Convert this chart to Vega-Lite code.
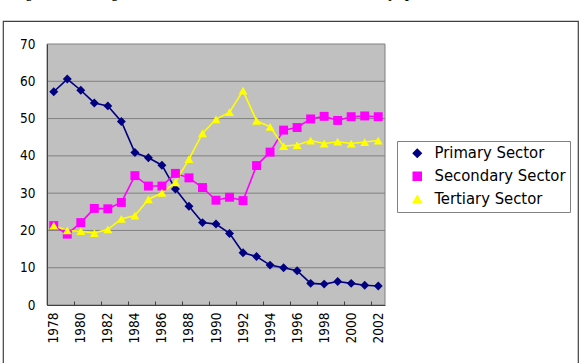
{
  "$schema": "https://vega.github.io/schema/vega-lite/v6.json",
  "width": 575,
  "height": 345,
  "autosize": {"type": "none"},
  "padding": {"left": 3, "top": 21, "right": 7, "bottom": 0},
  "background": "white",
  "title": {
    "text": "Figure 1. Changes in the Industrial Structure of Yiwu City (percent).",
    "font": "DejaVu Serif",
    "fontSize": 13,
    "fontWeight": "normal",
    "color": "#000000",
    "anchor": "start",
    "frame": "group",
    "baseline": "alphabetic",
    "offset": 10,
    "dx": 9
  },
  "config": {
    "view": {"stroke": "#404040", "strokeWidth": 1.2},
    "font": "DejaVu Sans Condensed"
  },
  "data": {
    "values": [
      {"year": 1978, "sector": "Primary Sector", "value": 57.2},
      {"year": 1979, "sector": "Primary Sector", "value": 60.6},
      {"year": 1980, "sector": "Primary Sector", "value": 57.6},
      {"year": 1981, "sector": "Primary Sector", "value": 54.2},
      {"year": 1982, "sector": "Primary Sector", "value": 53.4},
      {"year": 1983, "sector": "Primary Sector", "value": 49.2},
      {"year": 1984, "sector": "Primary Sector", "value": 40.9},
      {"year": 1985, "sector": "Primary Sector", "value": 39.5},
      {"year": 1986, "sector": "Primary Sector", "value": 37.5},
      {"year": 1987, "sector": "Primary Sector", "value": 31.1},
      {"year": 1988, "sector": "Primary Sector", "value": 26.5},
      {"year": 1989, "sector": "Primary Sector", "value": 22.1},
      {"year": 1990, "sector": "Primary Sector", "value": 21.7},
      {"year": 1991, "sector": "Primary Sector", "value": 19.2},
      {"year": 1992, "sector": "Primary Sector", "value": 14.0},
      {"year": 1993, "sector": "Primary Sector", "value": 13.0},
      {"year": 1994, "sector": "Primary Sector", "value": 10.7},
      {"year": 1995, "sector": "Primary Sector", "value": 10.0},
      {"year": 1996, "sector": "Primary Sector", "value": 9.2},
      {"year": 1997, "sector": "Primary Sector", "value": 5.8},
      {"year": 1998, "sector": "Primary Sector", "value": 5.6},
      {"year": 1999, "sector": "Primary Sector", "value": 6.3},
      {"year": 2000, "sector": "Primary Sector", "value": 5.8},
      {"year": 2001, "sector": "Primary Sector", "value": 5.3},
      {"year": 2002, "sector": "Primary Sector", "value": 5.1},
      {"year": 1978, "sector": "Secondary Sector", "value": 21.3},
      {"year": 1979, "sector": "Secondary Sector", "value": 19.0},
      {"year": 1980, "sector": "Secondary Sector", "value": 22.1},
      {"year": 1981, "sector": "Secondary Sector", "value": 25.9},
      {"year": 1982, "sector": "Secondary Sector", "value": 25.8},
      {"year": 1983, "sector": "Secondary Sector", "value": 27.5},
      {"year": 1984, "sector": "Secondary Sector", "value": 34.7},
      {"year": 1985, "sector": "Secondary Sector", "value": 31.9},
      {"year": 1986, "sector": "Secondary Sector", "value": 31.9},
      {"year": 1987, "sector": "Secondary Sector", "value": 35.3},
      {"year": 1988, "sector": "Secondary Sector", "value": 34.1},
      {"year": 1989, "sector": "Secondary Sector", "value": 31.5},
      {"year": 1990, "sector": "Secondary Sector", "value": 28.1},
      {"year": 1991, "sector": "Secondary Sector", "value": 28.9},
      {"year": 1992, "sector": "Secondary Sector", "value": 28.0},
      {"year": 1993, "sector": "Secondary Sector", "value": 37.4},
      {"year": 1994, "sector": "Secondary Sector", "value": 41.0},
      {"year": 1995, "sector": "Secondary Sector", "value": 46.9},
      {"year": 1996, "sector": "Secondary Sector", "value": 47.6},
      {"year": 1997, "sector": "Secondary Sector", "value": 49.9},
      {"year": 1998, "sector": "Secondary Sector", "value": 50.6},
      {"year": 1999, "sector": "Secondary Sector", "value": 49.5},
      {"year": 2000, "sector": "Secondary Sector", "value": 50.5},
      {"year": 2001, "sector": "Secondary Sector", "value": 50.7},
      {"year": 2002, "sector": "Secondary Sector", "value": 50.5},
      {"year": 1978, "sector": "Tertiary Sector", "value": 21.3},
      {"year": 1979, "sector": "Tertiary Sector", "value": 20.0},
      {"year": 1980, "sector": "Tertiary Sector", "value": 19.8},
      {"year": 1981, "sector": "Tertiary Sector", "value": 19.3},
      {"year": 1982, "sector": "Tertiary Sector", "value": 20.3},
      {"year": 1983, "sector": "Tertiary Sector", "value": 23.1},
      {"year": 1984, "sector": "Tertiary Sector", "value": 24.0},
      {"year": 1985, "sector": "Tertiary Sector", "value": 28.3},
      {"year": 1986, "sector": "Tertiary Sector", "value": 30.1},
      {"year": 1987, "sector": "Tertiary Sector", "value": 32.9},
      {"year": 1988, "sector": "Tertiary Sector", "value": 39.1},
      {"year": 1989, "sector": "Tertiary Sector", "value": 46.0},
      {"year": 1990, "sector": "Tertiary Sector", "value": 49.8},
      {"year": 1991, "sector": "Tertiary Sector", "value": 51.7},
      {"year": 1992, "sector": "Tertiary Sector", "value": 57.5},
      {"year": 1993, "sector": "Tertiary Sector", "value": 49.4},
      {"year": 1994, "sector": "Tertiary Sector", "value": 47.8},
      {"year": 1995, "sector": "Tertiary Sector", "value": 42.6},
      {"year": 1996, "sector": "Tertiary Sector", "value": 42.9},
      {"year": 1997, "sector": "Tertiary Sector", "value": 44.1},
      {"year": 1998, "sector": "Tertiary Sector", "value": 43.3},
      {"year": 1999, "sector": "Tertiary Sector", "value": 43.8},
      {"year": 2000, "sector": "Tertiary Sector", "value": 43.3},
      {"year": 2001, "sector": "Tertiary Sector", "value": 43.7},
      {"year": 2002, "sector": "Tertiary Sector", "value": 44.1}
    ]
  },
  "layer": [
    {
      "data": {"values": [{"panel": "plot"}]},
      "mark": {"type": "rect", "fill": "#c0c0c0", "stroke": "#808080", "strokeWidth": 1},
      "encoding": {
        "x": {"datum": 1977.5, "type": "quantitative"},
        "x2": {"datum": 2002.5},
        "y": {"datum": 0, "type": "quantitative"},
        "y2": {"datum": 70}
      }
    },
    {"data": {"values": [{"panel": "grid"}]}, "mark": {"type": "rule", "stroke": "#808080", "strokeWidth": 1}, "encoding": {"x": {"datum": 1977.5, "type": "quantitative"}, "x2": {"datum": 2002.5}, "y": {"datum": 10, "type": "quantitative"}}},
    {"data": {"values": [{"panel": "grid"}]}, "mark": {"type": "rule", "stroke": "#808080", "strokeWidth": 1}, "encoding": {"x": {"datum": 1977.5, "type": "quantitative"}, "x2": {"datum": 2002.5}, "y": {"datum": 20, "type": "quantitative"}}},
    {"data": {"values": [{"panel": "grid"}]}, "mark": {"type": "rule", "stroke": "#808080", "strokeWidth": 1}, "encoding": {"x": {"datum": 1977.5, "type": "quantitative"}, "x2": {"datum": 2002.5}, "y": {"datum": 30, "type": "quantitative"}}},
    {"data": {"values": [{"panel": "grid"}]}, "mark": {"type": "rule", "stroke": "#808080", "strokeWidth": 1}, "encoding": {"x": {"datum": 1977.5, "type": "quantitative"}, "x2": {"datum": 2002.5}, "y": {"datum": 40, "type": "quantitative"}}},
    {"data": {"values": [{"panel": "grid"}]}, "mark": {"type": "rule", "stroke": "#808080", "strokeWidth": 1}, "encoding": {"x": {"datum": 1977.5, "type": "quantitative"}, "x2": {"datum": 2002.5}, "y": {"datum": 50, "type": "quantitative"}}},
    {"data": {"values": [{"panel": "grid"}]}, "mark": {"type": "rule", "stroke": "#808080", "strokeWidth": 1}, "encoding": {"x": {"datum": 1977.5, "type": "quantitative"}, "x2": {"datum": 2002.5}, "y": {"datum": 60, "type": "quantitative"}}},
    {
      "encoding": {
        "x": {
          "field": "year",
          "type": "quantitative",
          "scale": {"domain": [1977.5, 2002.5], "range": [44, 382], "nice": false, "zero": false},
          "axis": {
            "title": null,
            "orient": "bottom",
            "offset": -61,
            "zindex": 1,
            "values": [1978, 1979, 1980, 1981, 1982, 1983, 1984, 1985, 1986, 1987, 1988, 1989, 1990, 1991, 1992, 1993, 1994, 1995, 1996, 1997, 1998, 1999, 2000, 2001, 2002],
            "labelExpr": "datum.value % 2 == 0 ? '' + datum.value : ''",
            "tickOffset": -6.76,
            "labelOffset": 6.76,
            "tickSize": -4,
            "tickColor": "#404040",
            "domainColor": "#404040",
            "labelAngle": -90,
            "labelAlign": "right",
            "labelBaseline": "middle",
            "labelPadding": 11,
            "labelFontSize": 13.5,
            "labelFont": "DejaVu Sans Condensed",
            "labelColor": "#000000",
            "labelOverlap": false,
            "labelBound": false,
            "labelFlush": false,
            "grid": false
          }
        },
        "y": {
          "field": "value",
          "type": "quantitative",
          "scale": {"domain": [0, 70], "range": [284, 23], "nice": false},
          "axis": {
            "title": null,
            "orient": "left",
            "offset": -44,
            "zindex": 1,
            "values": [0, 10, 20, 30, 40, 50, 60, 70],
            "ticks": false,
            "labelPadding": 12,
            "labelFontSize": 13.5,
            "labelFont": "DejaVu Sans Condensed",
            "labelColor": "#000000",
            "domainColor": "#404040",
            "grid": false
          }
        },
        "color": {
          "field": "sector",
          "type": "nominal",
          "scale": {
            "domain": ["Primary Sector", "Secondary Sector", "Tertiary Sector"],
            "range": ["#000080", "#ff00ff", "#ffff00"]
          },
          "legend": {
            "title": null,
            "orient": "none",
            "legendX": 394,
            "legendY": 120,
            "direction": "vertical",
            "padding": 4,
            "strokeColor": "#808080",
            "fillColor": "#ffffff",
            "labelFont": "DejaVu Sans Condensed",
            "labelFontSize": 16.5,
            "labelColor": "#000000",
            "labelOffset": 9,
            "symbolOffset": 8,
            "symbolSize": 64,
            "rowPadding": 6
          }
        }
      },
      "layer": [
        {"mark": {"type": "line", "strokeWidth": 1.6}},
        {
          "mark": {"type": "point", "filled": true, "opacity": 1, "size": 80},
          "encoding": {
            "shape": {
              "field": "sector",
              "type": "nominal",
              "scale": {
                "domain": ["Primary Sector", "Secondary Sector", "Tertiary Sector"],
                "range": ["diamond", "square", "triangle-up"]
              },
              "legend": null
            }
          }
        }
      ]
    }
  ]
}
